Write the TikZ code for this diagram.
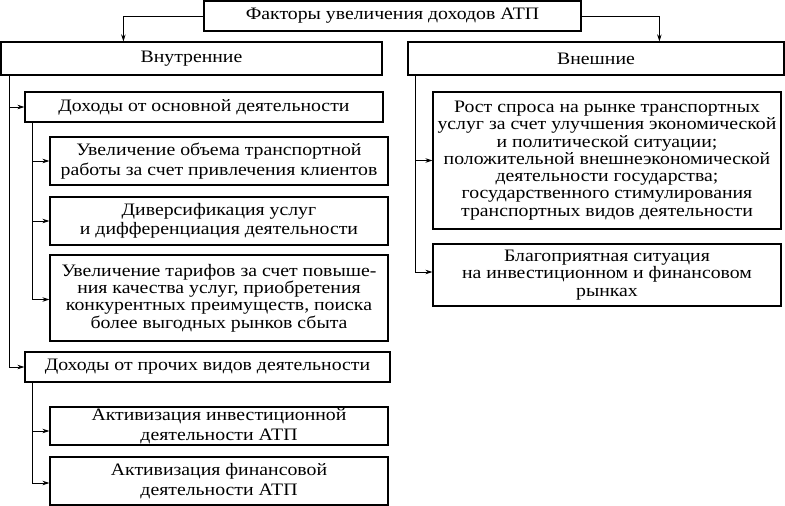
\documentclass[tikz,border=0pt]{standalone}
\usepackage{fontspec}
\setmainfont[FakeStretch=1.13]{Liberation Serif}
\usetikzlibrary{arrows.meta}
\begin{document}
\begin{tikzpicture}[x=1pt,y=-1pt,
  box/.style={draw, line width=1.2pt, inner sep=0pt, align=center,
    font=\fontsize{17.5}{17.3}\selectfont},
  wide/.style={font=\fontsize{17.5}{19.5}\selectfont},
  arr/.style={line width=1pt, -{Stealth[length=7pt,width=4.5pt]}}]
\useasboundingbox (0,0) rectangle (785,506);
\node[box, minimum width=377, minimum height=30] (top) at (392.5,16) {Факторы увеличения доходов АТП};
\node[box, minimum width=381, minimum height=33] (vn) at (191.5,58.5) {Внутренние};
\node[box, minimum width=376, minimum height=33] (ext) at (596,58.5) {Внешние};
\node[box, minimum width=358, minimum height=30] (osn) at (204,107) {Доходы от основной деятельности};
\node[box, wide, minimum width=338, minimum height=48] (s1) at (219,161) {Увеличение объема транспортной\\работы за счет привлечения клиентов};
\node[box, wide, minimum width=338, minimum height=48] (s2) at (219,221) {Диверсификация услуг\\и дифференциация деятельности};
\node[box, minimum width=338, minimum height=86] (s3) at (219,298) {Увеличение тарифов за счет повыше-\\ния качества услуг, приобретения\\конкурентных преимуществ, поиска\\более выгодных рынков сбыта};
\node[box, minimum width=365, minimum height=30] (pr) at (207.5,367) {Доходы от прочих видов деятельности};
\node[box, wide, minimum width=338, minimum height=38] (a1) at (219,426) {Активизация инвестиционной\\деятельности АТП};
\node[box, wide, minimum width=338, minimum height=48] (a2) at (219,481) {Активизация финансовой\\деятельности АТП};
\node[box, minimum width=348, minimum height=137] (e1) at (607,160.5) {Рост спроса на рынке транспортных\\услуг за счет улучшения экономической\\и политической ситуации;\\положительной внешнеэкономической\\деятельности государства;\\государственного стимулирования\\транспортных видов деятельности};
\node[box, minimum width=348, minimum height=62] (e2) at (607,275) {Благоприятная ситуация\\на инвестиционном и финансовом\\рынках};
\draw[arr] (top.west) -| ([xshift=123pt]vn.north west);
\draw[arr] (top.east) -| ([xshift=252pt]ext.north west);
\draw[arr] ([xshift=9pt]vn.south west) |- (osn.west);
\draw[arr] ([xshift=9pt]vn.south west) |- (pr.west);
\draw[arr] ([xshift=8pt]osn.south west) |- (s1.west);
\draw[arr] ([xshift=8pt]osn.south west) |- (s2.west);
\draw[arr] ([xshift=8pt]osn.south west) |- ([yshift=-1.5pt]s3.west);
\draw[arr] ([xshift=8pt]pr.south west) |- ([yshift=-5pt]a1.west);
\draw[arr] ([xshift=8pt]pr.south west) |- ([yshift=-2pt]a2.west);
\draw[arr] ([xshift=8pt]ext.south west) |- (e1.west);
\draw[arr] ([xshift=8pt]ext.south west) |- ([yshift=3pt]e2.west);
\end{tikzpicture}
\end{document}
